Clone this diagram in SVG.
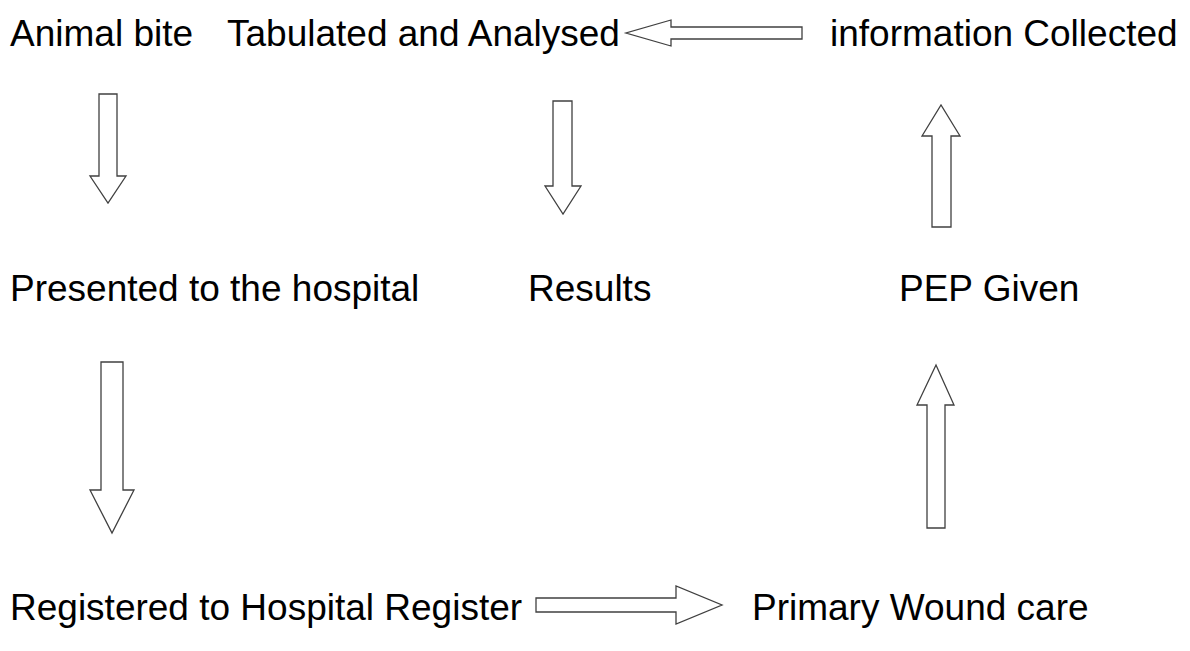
<svg xmlns="http://www.w3.org/2000/svg" width="1190" height="651" viewBox="0 0 1190 651">
<style>
.lbl{font-family:"Liberation Sans",Arial,sans-serif;font-size:37px;fill:#000}
.arr{fill:#fff;stroke:#404040;stroke-width:1.3;stroke-linejoin:miter}
</style>
<rect width="1190" height="651" fill="#fff"/>
<g id="node-animal-bite"><text class="lbl" x="10" y="46">Animal bite</text></g>
<g id="node-tabulated"><text class="lbl" x="227" y="46">Tabulated and Analysed</text></g>
<g id="node-info"><text class="lbl" x="830" y="46">information Collected</text></g>
<g id="node-presented"><text class="lbl" x="10" y="301">Presented to the hospital</text></g>
<g id="node-results"><text class="lbl" x="528" y="301">Results</text></g>
<g id="node-pep"><text class="lbl" x="899" y="301">PEP Given</text></g>
<g id="node-registered"><text class="lbl" x="10" y="620">Registered to Hospital Register</text></g>
<g id="node-wound"><text class="lbl" x="752" y="620">Primary Wound care</text></g>
<g id="connectors">
<polygon class="arr" points="99,94 117,94 117,176 126,176 108,203 90,176 99,176"/>
<polygon class="arr" points="553,101 572,101 572,186 581,186 563,214 545,186 553,186"/>
<polygon class="arr" points="802,27 671,27 671,20 626,33 671,46 671,39 802,39"/>
<polygon class="arr" points="932,227 951,227 951,136 960,136 941,105 922,136 932,136"/>
<polygon class="arr" points="101,362 123,362 123,490 134,490 112,533 90,490 101,490"/>
<polygon class="arr" points="927,528 945,528 945,405 954,405 936,365 917,405 927,405"/>
<polygon class="arr" points="536,598 676,598 676,586 722,605 676,624 676,612 536,612"/>
</g>
</svg>
